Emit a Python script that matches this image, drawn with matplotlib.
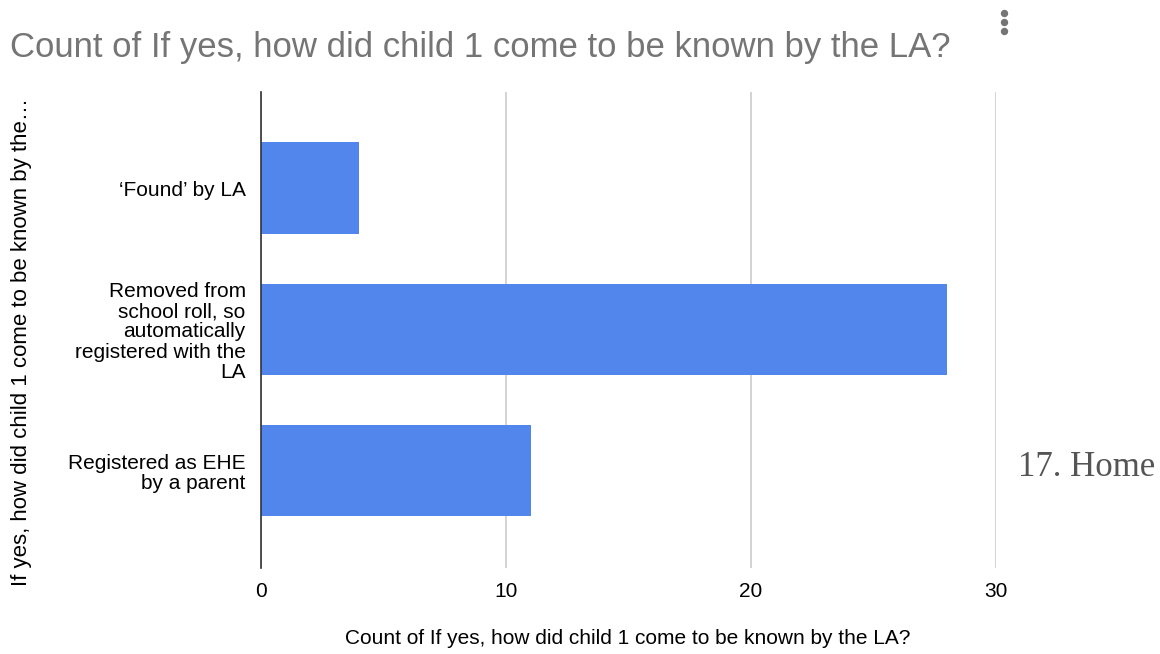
import matplotlib.pyplot as plt
from matplotlib.lines import Line2D
import numpy as np

# data
categories = ["\u2018Found\u2019 by LA",
              "Removed from\nschool roll, so\nautomatically\nregistered with the\nLA",
              "Registered as EHE\nby a parent"]
counts = [4, 28, 11]
x_ticks = [0, 10, 20, 30]

title = "Count of If yes, how did child 1 come to be known by the LA?"
x_label = "Count of If yes, how did child 1 come to be known by the LA?"
y_label = "If yes, how did child 1 come to be known by the\u2026"

plt.rcParams['font.family'] = ['Liberation Sans', 'DejaVu Sans']

fig = plt.figure(figsize=(11.6, 6.54), dpi=100)
ax = fig.add_axes([261/1160, 1 - 568/654, (996 - 261)/1160, (568 - 92)/654])

ypos = np.arange(len(categories))
ax.barh(ypos, counts, height=0.645, color='#5286EC', zorder=3)

ax.set_xlim(0, 30)
ax.set_ylim(2.69, -0.68)
ax.set_xticks(x_ticks)
ax.set_xticklabels([str(t) for t in x_ticks], fontsize=15)
ax.set_yticks(ypos)
ax.set_yticklabels(categories, fontsize=15, linespacing=1.08)
ax.tick_params(axis='x', length=0, pad=10)
ax.tick_params(axis='y', length=0, pad=11)

ax.grid(axis='x', color='#cccccc', linewidth=1.2, zorder=0)
for s in ['top', 'right', 'bottom']:
    ax.spines[s].set_visible(False)
ax.spines['left'].set_color('#333333')
ax.spines['left'].set_linewidth(1.2)
ax.spines['left'].set_zorder(4)

fig.text(628/1160, 1 - 639/654, x_label, fontsize=15, ha='center', va='center')
fig.text(22/1160, 1 - 342/654, y_label, rotation=90, fontsize=16,
         ha='center', va='center')

fig.text(10/1160, 1 - 47/654, title, fontsize=25, color='#757575',
         ha='left', va='center')

# menu dots
for yy in [13, 22, 31]:
    fig.add_artist(Line2D([1004/1160], [1 - yy/654], marker='o', markersize=4.3,
                          color='#757575', linestyle='none',
                          transform=fig.transFigure))

fig.text(1018/1160, 1 - 468/654, "17. Home", fontsize=25, color='#555555',
         family=['Liberation Serif', 'DejaVu Serif'], ha='left', va='center')

fig.savefig('out.png', dpi=100)
